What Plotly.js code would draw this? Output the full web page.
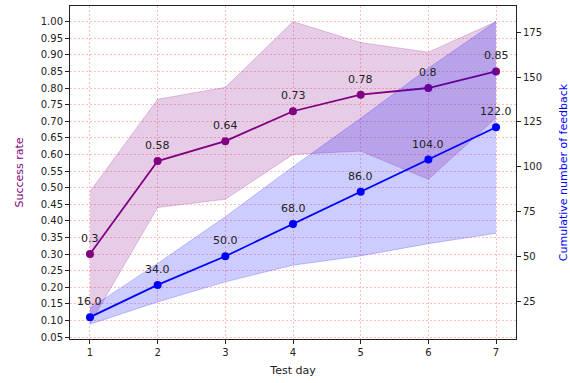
<!DOCTYPE html>
<html>
<head>
<meta charset="utf-8">
<script src="https://cdn.plot.ly/plotly-3.0.1.min.js"></script>
<style>html,body{margin:0;padding:0;background:#fff;}#chart{width:570px;height:383px;}</style>
</head>
<body>
<div id="chart"></div>
<script>
const days = [1, 2, 3, 4, 5, 6, 7];
const successRate = [0.3, 0.58, 0.64, 0.73, 0.78, 0.8, 0.85];
const successLower = [0.09, 0.44, 0.465, 0.60, 0.61, 0.525, 0.71];
const successUpper = [0.488, 0.766, 0.802, 1.00, 0.937, 0.908, 1.00];
const feedbackCount = [16, 34, 50, 68, 86, 104, 122];
const feedbackLower = [12, 24.5, 35.7, 45, 50.2, 57, 62.8];
const feedbackUpper = [21, 46, 72, 100, 127, 155, 181];
const successTicks = [0.05,0.10,0.15,0.20,0.25,0.30,0.35,0.40,0.45,0.50,0.55,0.60,0.65,0.70,0.75,0.80,0.85,0.90,0.95,1.00];
const feedbackTicks = [25, 50, 75, 100, 125, 150, 175];

const labelFont = {family: 'DejaVu Sans, sans-serif', size: 11, color: '#222'};

const traces = [
  {x: days, y: successLower, yaxis: 'y', mode: 'lines', line: {width: 1, color: 'rgba(128,0,128,0.2)'}, hoverinfo: 'skip', showlegend: false},
  {x: days, y: successUpper, yaxis: 'y', mode: 'lines', fill: 'tonexty', fillcolor: 'rgba(128,0,128,0.2)', line: {width: 1, color: 'rgba(128,0,128,0.2)'}, hoverinfo: 'skip', showlegend: false},
  {x: days, y: successRate, yaxis: 'y', mode: 'lines+markers', line: {color: 'purple', width: 1.8}, marker: {color: 'purple', size: 8}, showlegend: false},
  {x: days, y: feedbackLower, yaxis: 'y2', mode: 'lines', line: {width: 1, color: 'rgba(0,0,255,0.2)'}, hoverinfo: 'skip', showlegend: false},
  {x: days, y: feedbackUpper, yaxis: 'y2', mode: 'lines', fill: 'tonexty', fillcolor: 'rgba(0,0,255,0.2)', line: {width: 1, color: 'rgba(0,0,255,0.2)'}, hoverinfo: 'skip', showlegend: false},
  {x: days, y: feedbackCount, yaxis: 'y2', mode: 'lines+markers', line: {color: 'blue', width: 1.8}, marker: {color: 'blue', size: 8}, showlegend: false}
];

const annotations = [];
days.forEach((d, i) => {
  annotations.push({x: d, y: successRate[i], xref: 'x', yref: 'y', text: String(successRate[i]), showarrow: false, yanchor: 'bottom', yshift: 7, font: labelFont});
  annotations.push({x: d, y: feedbackCount[i], xref: 'x', yref: 'y2', text: feedbackCount[i].toFixed(1), showarrow: false, yanchor: 'bottom', yshift: 7, font: labelFont});
});

const gridStyle = {showgrid: true, gridcolor: 'rgba(255,0,0,0.42)', gridwidth: 0.6, griddash: '2px,2px'};

const layout = {
  width: 570, height: 383,
  margin: {l: 70, r: 54, t: 6, b: 44},
  paper_bgcolor: '#fff', plot_bgcolor: '#fff',
  font: {family: 'DejaVu Sans, sans-serif', size: 10, color: '#222'},
  showlegend: false,
  annotations: annotations,
  xaxis: Object.assign({
    range: [0.705, 7.295], tickvals: days, ticktext: days.map(String),
    showline: true, linecolor: '#222', linewidth: 1, mirror: true,
    ticks: 'outside', ticklen: 4, tickcolor: '#222',
    zeroline: false,
    title: {text: 'Test day', font: {family: 'DejaVu Sans, sans-serif', size: 11, color: '#222'}, standoff: 9}
  }, gridStyle),
  yaxis: Object.assign({
    range: [0.044, 1.047], tickvals: successTicks, ticktext: successTicks.map(v => v.toFixed(2)),
    showline: true, linecolor: '#222', linewidth: 1,
    ticks: 'outside', ticklen: 4, tickcolor: '#222',
    zeroline: false,
    title: {text: 'Success rate', font: {family: 'DejaVu Sans, sans-serif', size: 11, color: 'purple'}, standoff: 14}
  }, gridStyle),
  yaxis2: {
    overlaying: 'y', side: 'right',
    range: [3.8, 189.7], tickvals: feedbackTicks, ticktext: feedbackTicks.map(String),
    showline: true, linecolor: '#222', linewidth: 1,
    ticks: 'outside', ticklen: 4, tickcolor: '#222',
    showgrid: false, zeroline: false,
    title: {text: 'Cumulative number of feedback', font: {family: 'DejaVu Sans, sans-serif', size: 11, color: 'blue'}, standoff: 18}
  }
};

Plotly.newPlot('chart', traces, layout, {displayModeBar: false, staticPlot: true});
</script>
</body>
</html>
